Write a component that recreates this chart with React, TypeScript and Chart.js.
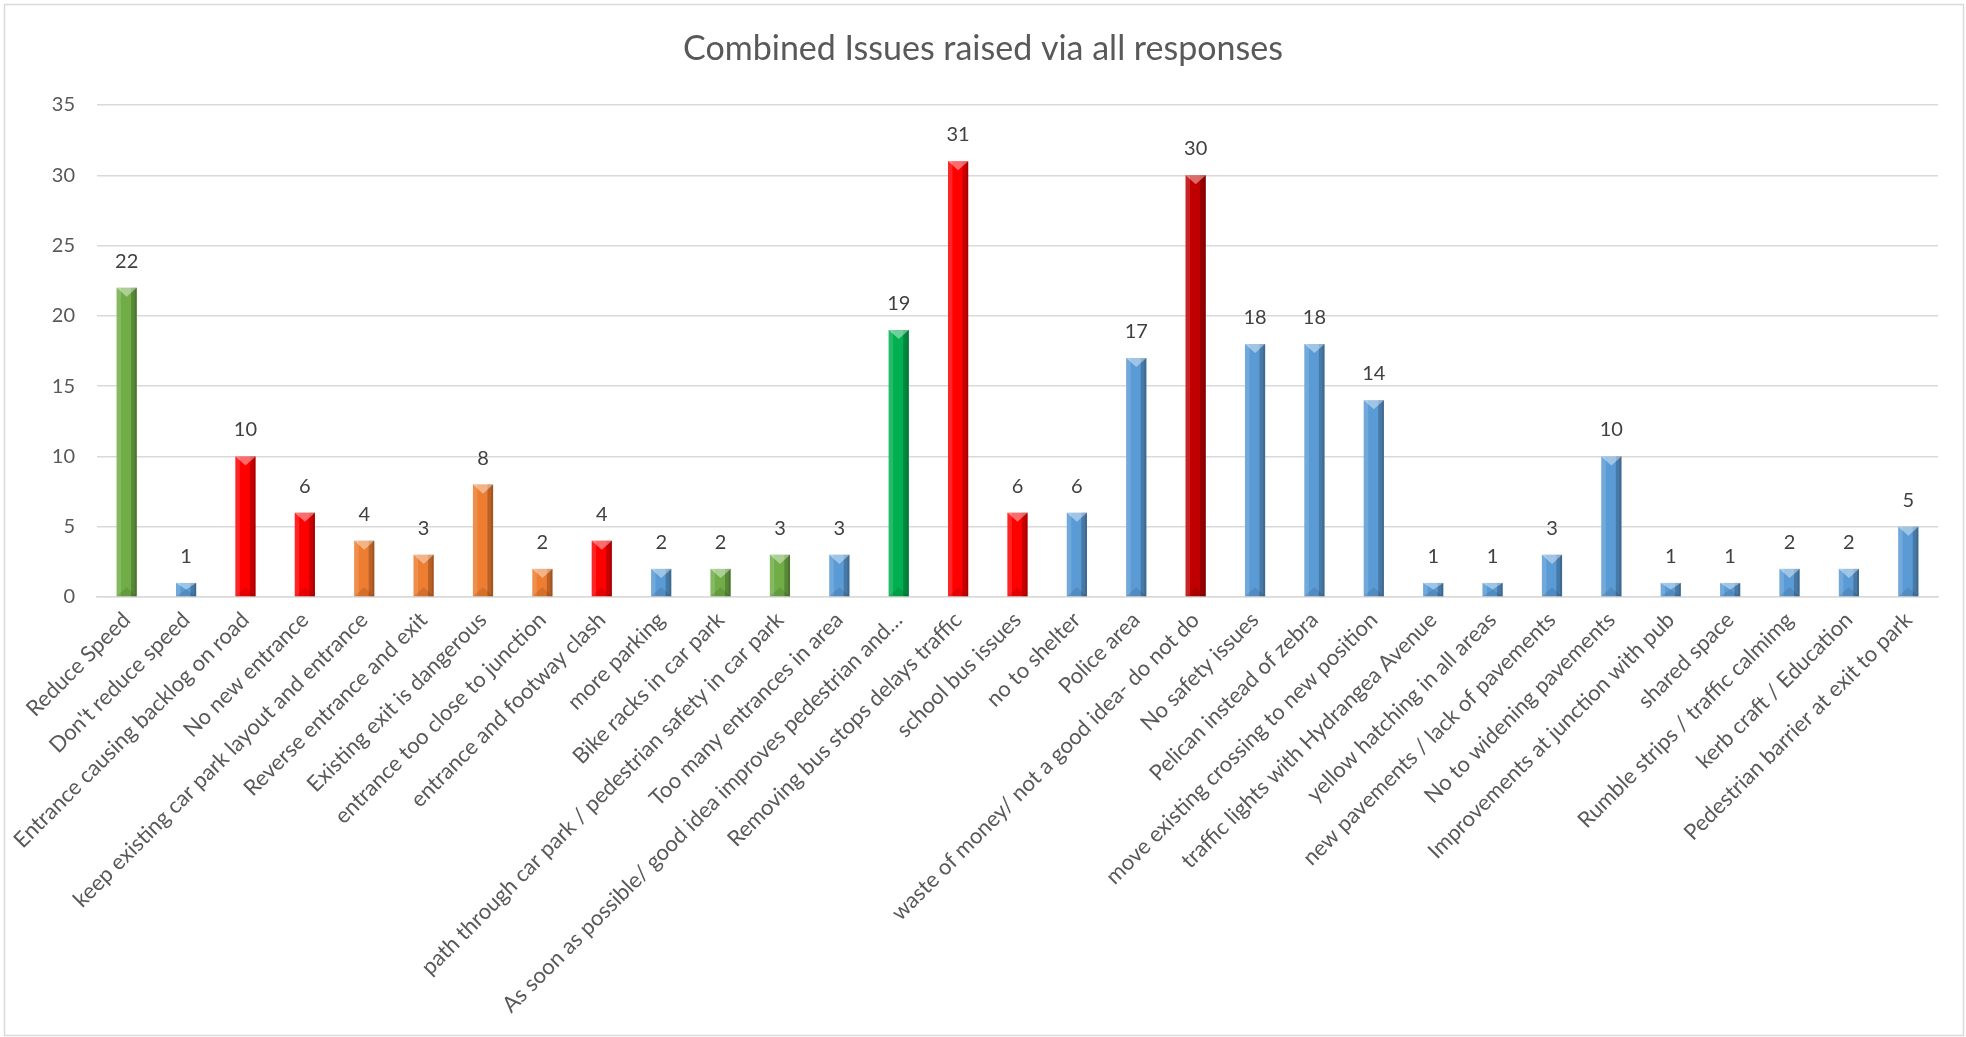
import React, { useEffect, useRef } from "react";
import { Chart, registerables } from "chart.js";

Chart.register(...registerables);

const TITLE = "Combined Issues raised via all responses";

const categories = [
  "Reduce Speed",
  "Don't reduce speed",
  "Entrance causing backlog on road",
  "No new entrance",
  "keep existing car park layout and entrance",
  "Reverse entrance and exit",
  "Existing exit is dangerous",
  "entrance too close to junction",
  "entrance and footway clash",
  "more parking",
  "Bike racks in car park",
  "path through car park / pedestrian safety in car park",
  "Too many entrances in area",
  "As soon as possible/ good idea improves pedestrian and…",
  "Removing bus stops delays traffic",
  "school bus issues",
  "no to shelter",
  "Police area",
  "waste of money/ not a good idea- do not do",
  "No safety issues",
  "Pelican instead of zebra",
  "move existing crossing to new position",
  "traffic lights with Hydrangea Avenue",
  "yellow hatching in all areas",
  "new pavements / lack of pavements",
  "No to widening pavements",
  "Improvements at junction with pub",
  "shared space",
  "Rumble strips / traffic calmimg",
  "kerb craft / Education",
  "Pedestrian barrier at exit to park",
];

const counts = [
  22, 1, 10, 6, 4, 3, 8, 2, 4, 2, 2, 3, 3, 19, 31, 6, 6, 17, 30, 18, 18, 14, 1,
  1, 3, 10, 1, 1, 2, 2, 5,
];

// colour group of each bar
const groups = [
  "olive", "blue", "red", "red", "orange", "orange", "orange", "orange", "red",
  "blue", "olive", "olive", "blue", "green", "red", "red", "blue", "blue",
  "darkred", "blue", "blue", "blue", "blue", "blue", "blue", "blue", "blue",
  "blue", "blue", "blue", "blue",
];

const palette: Record<string, string> = {
  olive: "#70AD47",
  blue: "#5B9BD5",
  red: "#FF0000",
  orange: "#ED7D31",
  green: "#00B050",
  darkred: "#C00000",
};

const yTickValues = [0, 5, 10, 15, 20, 25, 30, 35];

const FONT = "Lato, 'Open Sans', sans-serif";
const TEXT_GREY = "#595959";
const GRID_GREY = "#D9D9D9";

// Frame and title drawn around the plot
const framePlugin = {
  id: "frame",
  beforeDraw(chart: any) {
    const ctx = chart.ctx;
    ctx.save();
    ctx.fillStyle = "#FFFFFF";
    ctx.fillRect(0, 0, chart.width, chart.height);
    ctx.strokeStyle = GRID_GREY;
    ctx.lineWidth = 1.5;
    ctx.strokeRect(4.5, 4.5, chart.width - 7, chart.height - 6);
    ctx.fillStyle = TEXT_GREY;
    ctx.font = `34px ${FONT}`;
    ctx.textAlign = "center";
    ctx.textBaseline = "alphabetic";
    ctx.fillText(TITLE, chart.width / 2, 60);
    ctx.restore();
  },
};

// Bevelled shading on every bar plus the value label above it
const bevelPlugin = {
  id: "bevel",
  afterDatasetsDraw(chart: any) {
    const ctx = chart.ctx;
    const meta = chart.getDatasetMeta(0);
    const values = chart.data.datasets[0].data as number[];
    ctx.save();
    meta.data.forEach((bar: any, i: number) => {
      const w = bar.width;
      const left = bar.x - w / 2;
      const right = bar.x + w / 2;
      const top = bar.y;
      const base = bar.base;
      const h = base - top;
      // side shading
      ctx.fillStyle = "rgba(255,255,255,0.14)";
      ctx.fillRect(left, top, w * 0.22, h);
      ctx.fillStyle = "rgba(0,0,0,0.22)";
      ctx.fillRect(right - w * 0.28, top, w * 0.28, h);
      ctx.fillStyle = "rgba(0,0,0,0.12)";
      ctx.fillRect(right - w * 0.1, top, w * 0.1, h);
      const t = Math.min(w * 0.45, h / 2);
      // top facet
      ctx.fillStyle = "rgba(255,255,255,0.42)";
      ctx.beginPath();
      ctx.moveTo(left, top);
      ctx.lineTo(right, top);
      ctx.lineTo(bar.x, top + t);
      ctx.closePath();
      ctx.fill();
      // bottom facet
      ctx.fillStyle = "rgba(0,0,0,0.1)";
      ctx.beginPath();
      ctx.moveTo(left, base);
      ctx.lineTo(right, base);
      ctx.lineTo(bar.x, base - t);
      ctx.closePath();
      ctx.fill();
      // value label
      ctx.fillStyle = "#404040";
      ctx.font = `20px ${FONT}`;
      ctx.textAlign = "center";
      ctx.textBaseline = "alphabetic";
      ctx.fillText(String(values[i]), bar.x, top - 20);
    });
    ctx.restore();
  },
};

export default function App() {
  const canvasRef = useRef<HTMLCanvasElement | null>(null);

  useEffect(() => {
    const canvas = canvasRef.current;
    if (!canvas) return;
    const chart = new Chart(canvas, {
      type: "bar",
      data: {
        labels: categories,
        datasets: [
          {
            data: counts,
            backgroundColor: groups.map((g) => palette[g]),
            borderWidth: 0,
            barPercentage: 0.34,
            categoryPercentage: 1,
          },
        ],
      },
      options: {
        animation: false,
        responsive: false,
        devicePixelRatio: 1,
        layout: { padding: { top: 105, right: 28, left: 0, bottom: 0 } },
        plugins: {
          legend: { display: false },
          tooltip: { enabled: false },
          title: { display: false },
        },
        scales: {
          x: {
            grid: { display: false },
            border: { display: true, color: GRID_GREY, width: 1.5 },
            ticks: {
              autoSkip: false,
              minRotation: 45,
              maxRotation: 45,
              color: TEXT_GREY,
              font: { family: FONT, size: 22 },
              padding: 2,
            },
            afterFit(scale: any) {
              scale.height = 440;
            },
          },
          y: {
            min: 0,
            max: 35,
            afterBuildTicks(scale: any) {
              scale.ticks = yTickValues.map((v) => ({ value: v }));
            },
            grid: { color: GRID_GREY, lineWidth: 1.5, drawTicks: false },
            border: { display: false },
            ticks: {
              color: TEXT_GREY,
              font: { family: FONT, size: 20 },
              padding: 22,
            },
            afterFit(scale: any) {
              scale.width = 97;
            },
          },
        },
      },
      plugins: [framePlugin, bevelPlugin],
    });
    return () => chart.destroy();
  }, []);

  return (
    <div style={{ position: "fixed", left: 0, top: 0, width: 1966, height: 1037, background: "#fff" }}>
      <canvas ref={canvasRef} width={1966} height={1037} style={{ display: "block" }} />
    </div>
  );
}
